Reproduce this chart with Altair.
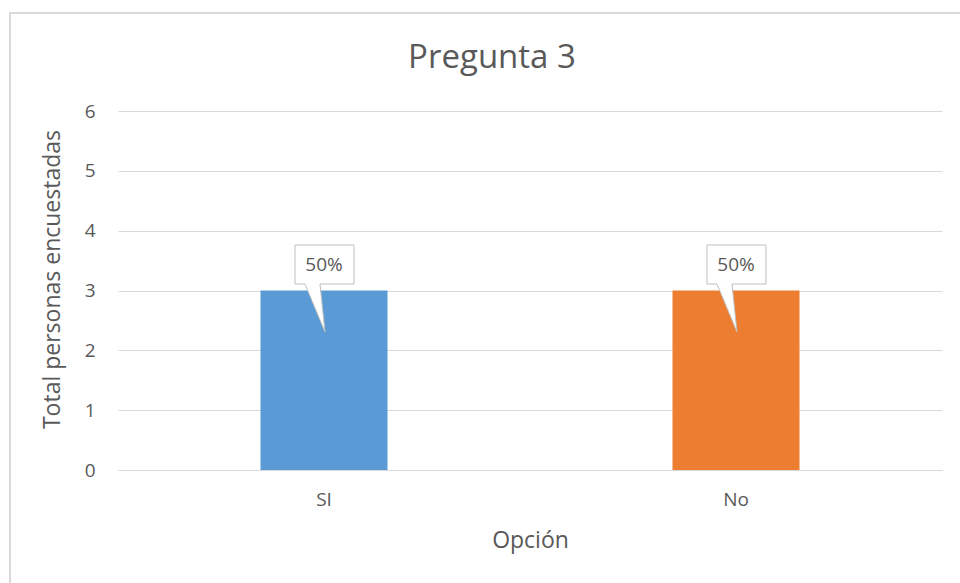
import altair as alt
import pandas as pd

# Survey answers for question 3
opciones = ["SI", "No"]
totales = [3, 3]
porcentajes = ["50%", "50%"]
colores = ["#5B9BD5", "#ED7D31"]

df = pd.DataFrame({"Opción": opciones, "Total": totales, "Pct": porcentajes})

FONT = "Open Sans"
GRAY = "#595959"

# callout bubble (box with a pointer) drawn as a custom symbol path,
# anchored at the top centre of each bar
CALLOUT = ("M -0.58 -0.91 L 0.60 -0.91 L 0.60 -0.13 L -0.08 -0.13 "
           "L 0.02 0.83 L -0.38 -0.13 L -0.58 -0.13 Z")

x_enc = alt.X("Opción:N", sort=opciones,
              scale=alt.Scale(paddingInner=0, paddingOuter=0),
              axis=alt.Axis(title="Opción", labelAngle=0, ticks=False,
                            domain=True, domainColor="#d9d9d9", labelPadding=20,
                            titlePadding=20))
y_enc = alt.Y("Total:Q", scale=alt.Scale(domain=[0, 6]),
              axis=alt.Axis(title="Total personas encuestadas", values=[0, 1, 2, 3, 4, 5, 6],
                            format="d", ticks=False, domain=False, labelPadding=23,
                            gridColor="#d9d9d9", titlePadding=20, titleY=168))

base = alt.Chart(df)

bars = base.mark_bar(size=127).encode(
    x=x_enc,
    y=y_enc,
    color=alt.Color("Opción:N", sort=opciones,
                    scale=alt.Scale(domain=opciones, range=colores), legend=None),
)

bubbles = base.mark_point(shape=CALLOUT, size=10000, filled=True, fill="white",
                          stroke="#bfbfbf", strokeWidth=1, opacity=1).encode(
    x=alt.X("Opción:N", sort=opciones),
    y="Total:Q",
)

labels = base.mark_text(font=FONT, fontSize=19, color=GRAY, dy=-26,
                        baseline="middle").encode(
    x=alt.X("Opción:N", sort=opciones),
    y="Total:Q",
    text="Pct:N",
)

# outer chart frame
frame = alt.Chart(df).mark_rect(fill=None, stroke="#d9d9d9", strokeWidth=2).encode(
    x=alt.value(-108), x2=alt.value(900), y=alt.value(-98), y2=alt.value(520)
)

chart = alt.layer(frame, bars, bubbles, labels).properties(
    width=824,
    height=359,
    background="white",
    title=alt.TitleParams("Pregunta 3", font=FONT, fontSize=33, fontWeight="normal",
                          color=GRAY, anchor="middle", dx=-38, offset=-63),
    autosize=alt.AutoSizeParams(type="none"),
    padding={"left": 118, "top": 111, "right": 18, "bottom": 113},
).configure_view(stroke=None).configure_axis(
    labelFont=FONT, titleFont=FONT, labelFontSize=19, titleFontSize=23,
    labelColor=GRAY, titleColor=GRAY, titleFontWeight="normal",
)

chart.save("out.html", embed_options={"renderer": "svg", "actions": False})
